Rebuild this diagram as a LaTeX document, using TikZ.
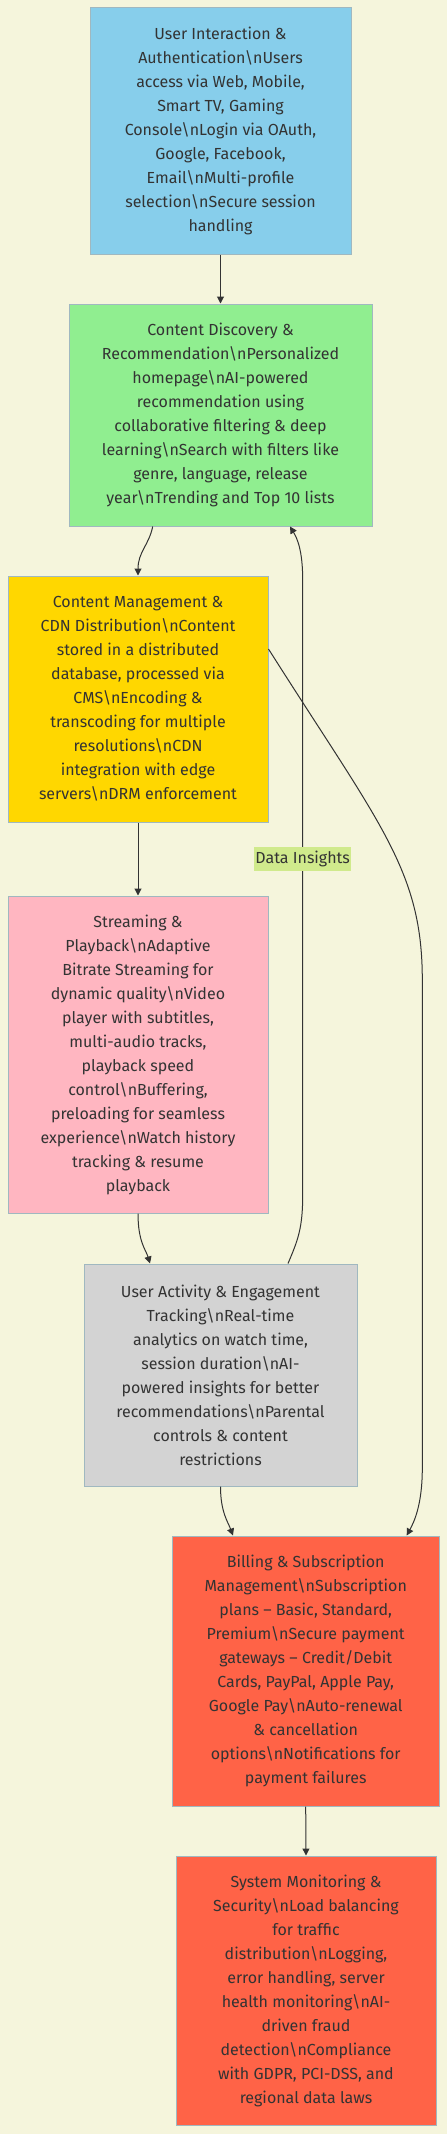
\documentclass[tikz,border=0pt]{standalone}
\usepackage{fontspec}
\setmainfont{Fira Sans}
\usetikzlibrary{arrows.meta}
\newcommand{\bsn}{\textbackslash n}
\definecolor{bgc}{HTML}{F5F5DC}
\definecolor{strokec}{HTML}{A0B8C0}
\definecolor{txtc}{HTML}{333333}
\definecolor{edgec}{HTML}{333333}
\definecolor{lblc}{HTML}{D0EA8C}
\tikzset{
  box/.style={draw=strokec, line width=1pt, rectangle, align=center, text=txtc,
    font=\fontsize{16}{24}\selectfont, inner sep=0pt},
  conn/.style={draw=edgec, line width=1pt, -{Triangle[length=7pt,width=7pt]}},
  lbl/.style={fill=lblc, text=txtc, font=\fontsize{16}{24}\selectfont, inner xsep=1pt, inner ysep=0pt, minimum height=24pt}
}
\begin{document}
\begin{tikzpicture}[x=1pt,y=-1pt]
\useasboundingbox[fill=bgc] (0,0) rectangle (447,2134);

\node[box, fill={rgb,255:red,135;green,206;blue,235}, minimum width=261pt, minimum height=247pt] (A) at (220.5,130.5)
 {User Interaction \&\\Authentication\bsn{}Users\\access via Web, Mobile,\\Smart TV, Gaming\\Console\bsn{}Login via OAuth,\\Google, Facebook,\\Email\bsn{}Multi-profile\\selection\bsn{}Secure session\\handling};

\node[box, fill={rgb,255:red,144;green,238;blue,144}, minimum width=303pt, minimum height=222pt] (B) at (220.5,415)
 {Content Discovery \&\\Recommendation\bsn{}Personalized\\homepage\bsn{}AI-powered\\recommendation using\\collaborative filtering \& deep\\learning\bsn{}Search with filters like\\genre, language, release\\year\bsn{}Trending and Top 10 lists};

\node[box, fill={rgb,255:red,255;green,215;blue,0}, minimum width=260pt, minimum height=246pt] (C) at (138,699)
 {Content Management \&\\CDN Distribution\bsn{}Content\\stored in a distributed\\database, processed via\\CMS\bsn{}Encoding \&\\transcoding for multiple\\resolutions\bsn{}CDN\\integration with edge\\servers\bsn{}DRM enforcement};

\node[box, fill={rgb,255:red,255;green,182;blue,193}, minimum width=260pt, minimum height=317pt] (D) at (138,1054.5)
 {Streaming \&\\Playback\bsn{}Adaptive\\Bitrate Streaming for\\dynamic quality\bsn{}Video\\player with subtitles,\\multi-audio tracks,\\playback speed\\control\bsn{}Buffering,\\preloading for seamless\\experience\bsn{}Watch history\\tracking \& resume\\playback};

\node[box, fill={rgb,255:red,211;green,211;blue,211}, minimum width=273pt, minimum height=222pt] (E) at (220.5,1375)
 {User Activity \& Engagement\\Tracking\bsn{}Real-time\\analytics on watch time,\\session duration\bsn{}AI-\\powered insights for better\\recommendations\bsn{}Parental\\controls \& content\\restrictions};

\node[box, fill={rgb,255:red,255;green,99;blue,71}, minimum width=267pt, minimum height=270pt] (F) at (305.7,1671)
 {Billing \& Subscription\\Management\bsn{}Subscription\\plans – Basic, Standard,\\Premium\bsn{}Secure payment\\gateways – Credit/Debit\\Cards, PayPal, Apple Pay,\\Google Pay\bsn{}Auto-renewal\\\& cancellation\\options\bsn{}Notifications for\\payment failures};

\node[box, fill={rgb,255:red,255;green,99;blue,71}, minimum width=260pt, minimum height=269pt] (G) at (306,1990.5)
 {System Monitoring \&\\Security\bsn{}Load balancing\\for traffic\\distribution\bsn{}Logging,\\error handling, server\\health monitoring\bsn{}AI-\\driven fraud\\detection\bsn{}Compliance\\with GDPR, PCI-DSS, and\\regional data laws};

% edges
\draw[conn] (A.south) -- (B.north);
\draw[conn] ([xshift=-67.8pt]B.south) .. controls (149,545) and (138,552) .. (C.north);
\draw[conn] (C.south) -- (D.north);
\draw[conn] (D.south) .. controls (138,1242) and (146,1250) .. ([xshift=-70.5pt]E.north);
\draw[conn] ([xshift=67.5pt]E.north) .. controls (298,1240) and (302.7,1228) .. (302.7,1195)
   -- node[lbl, pos=0.546] (L) {Data Insights} (302.7,580)
   .. controls (302.7,550) and (297,538) .. ([xshift=69.5pt]B.south);
\draw[conn] ([yshift=50pt]C.east) .. controls (380,825) and (422.3,870) .. (422.3,980)
   -- (422.3,1468) .. controls (422.3,1505) and (414,1522) .. ([xshift=101pt]F.north);
\draw[conn] (E.south) .. controls (220.5,1512) and (228,1522) .. ([xshift=-72.7pt]F.north);
\draw[conn] (F.south) -- (G.north);
\end{tikzpicture}
\end{document}
